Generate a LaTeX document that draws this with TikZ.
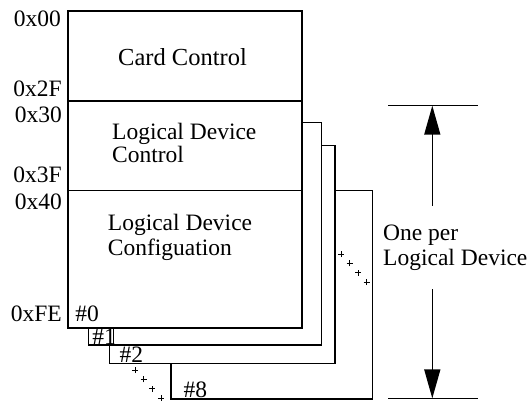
\documentclass[tikz,border=0pt]{standalone}
\usepackage{fontspec}
\setmainfont{Liberation Serif}
\usetikzlibrary{arrows.meta,shapes.misc}
\begin{document}
\begin{tikzpicture}[x=1pt,y=-1pt,
  box/.style={draw,fill=white,line width=1.5pt,inner sep=0pt,outer sep=0pt,anchor=north west},
  ln/.style={line width=1.5pt},
  txt/.style={font=\fontsize{23.5}{24}\selectfont,inner sep=0pt},
  addr/.style={txt,anchor=east},
  dimarrow/.style={line width=1.5pt,-{Triangle[length=29pt,width=16pt]}},
  dotmark/.style={draw,line width=0.9pt,inner sep=0pt,minimum size=3.4pt,cross out}]
\useasboundingbox (0,0) rectangle (528,401);
% stacked boxes, back to front
\node[box,minimum width=201.5pt,minimum height=208.5pt] (b8) at (171,190.5) {};
\node[box,minimum width=225.9pt,minimum height=218.2pt] (b2) at (109.3,145.3) {};
\node[box,minimum width=232.8pt,minimum height=222.5pt] (b1) at (88.7,122.5) {};
\node[box,minimum width=234pt,minimum height=317pt] (b0) at (68,11) {};
% dividers of box #0
\coordinate (d1l) at (68,101); \coordinate (d1r) at (302,101);
\coordinate (d2l) at (68,190.7); \coordinate (d2r) at (302,190.7);
\draw[ln] (d1l) -- (d1r);
\draw[ln] (d2l) -- (d2r);
% small box around #1
\coordinate (t1a) at (113.3,328); \coordinate (t1b) at (113.3,345);
\draw[ln] (t1a) -- (t1b);
% box texts
\node[txt,font=\fontsize{24.5}{25}\selectfont] (cc) at (182.5,57) {Card Control};
\node[txt,anchor=west,align=left,font=\fontsize{23.5}{23.5}\selectfont] (ldc) at (112,143) {Logical Device\\Control};
\node[txt,anchor=west,align=left,font=\fontsize{23.5}{25}\selectfont] (ldcfg) at (107.7,237.5) {Logical Device\\Configuation};
% address labels
\node[addr] (a00) at (61,18.5) {0x00};
\node[addr] (a2f) at (62,89) {0x2F};
\node[addr] (a30) at (62,114.7) {0x30};
\node[addr] (a3f) at (62,174.7) {0x3F};
\node[addr] (a40) at (62,201.7) {0x40};
\node[addr] (afe) at (62,314) {0xFE};
% box numbers
\node[txt] (n0) at (87,313.5) {\#0};
\node[txt] (n1) at (104,337) {\#1};
\node[txt] (n2) at (131.3,355) {\#2};
\node[txt] (n8) at (195.3,389.5) {\#8};
% continuation dots
\foreach \i in {0,1,2,3}{
  \node[dotmark,rotate=45] (rd\i) at ({341+8.57*\i},{254+9.33*\i}) {};
  \node[dotmark,rotate=45] (bd\i) at ({135+8.67*\i},{370+9.33*\i}) {};
}
% dimension
\coordinate (tl) at (388,105.7); \coordinate (tr) at (477.7,105.7);
\coordinate (bl) at (388,398.4); \coordinate (br) at (477.7,398.4);
\coordinate (top) at (432.3,105.7); \coordinate (bot) at (432.3,398.4);
\coordinate (ua) at (432.3,206); \coordinate (la) at (432.3,289);
\draw[ln] (tl) -- (tr);
\draw[ln] (bl) -- (br);
\draw[dimarrow] (ua) -- (top);
\draw[dimarrow] (la) -- (bot);
\node[txt,anchor=west,align=left,font=\fontsize{23.5}{25}\selectfont] (one) at (383,247.5) {One per\\Logical Device};
\end{tikzpicture}
\end{document}
